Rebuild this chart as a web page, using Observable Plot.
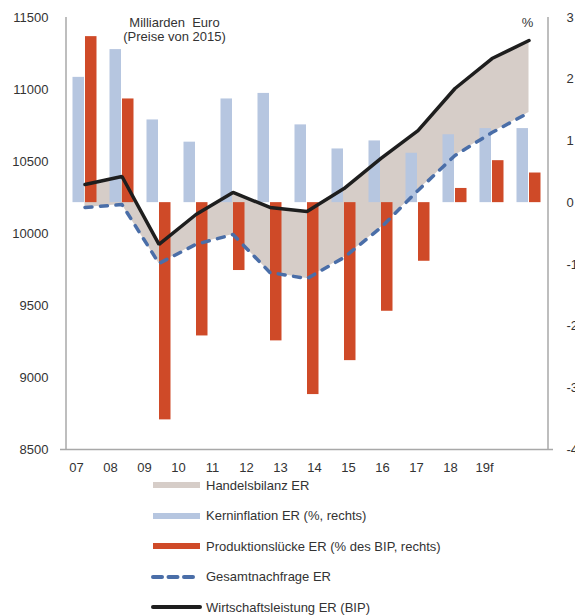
<!DOCTYPE html>
<html>
<head>
<meta charset="utf-8">
<script src="https://cdn.jsdelivr.net/npm/d3@7"></script>
<script src="https://cdn.jsdelivr.net/npm/@observablehq/plot@0.6"></script>
<style>
  body { margin: 0; background: #fff; font-family: "Liberation Sans", Arial, sans-serif; }
  #wrap { position: relative; width: 575px; height: 615px; overflow: hidden; }
  #wrap svg { display: block; }
  .legend { position: absolute; left: 0; top: 470px; width: 575px; }
  .row { display: flex; align-items: center; height: 30.5px; font-size: 13px; color: #333; }
  .row svg { margin-left: 151px; margin-right: 4px; }
</style>
</head>
<body>
<div id="wrap"></div>
<script>
// ---- data ----
const years = ["07","08","09","10","11","12","13","14","15","16","17","18","19f"];
const kerninflation = [2.03, 2.48, 1.34, 0.98, 1.68, 1.77, 1.26, 0.87, 1.0, 0.8, 1.1, 1.2, 1.2];
const produktionsluecke = [2.69, 1.68, -3.52, -2.16, -1.1, -2.24, -3.11, -2.56, -1.76, -0.95, 0.23, 0.68, 0.48];
const wirtschaftsleistung = [10340, 10396, 9924, 10132, 10285, 10181, 10153, 10312, 10521, 10715, 11007, 11215, 11340];
const gesamtnachfrage = [10181, 10201, 9792, 9925, 9993, 9729, 9687, 9833, 10042, 10299, 10542, 10701, 10840];
const leftTicks = [8500, 9000, 9500, 10000, 10500, 11000, 11500];
const rightTicks = [-4, -3, -2, -1, 0, 1, 2, 3];
const legendLabels = [
  "Handelsbilanz ER",
  "Kerninflation ER (%, rechts)",
  "Produktionslücke ER (% des BIP, rechts)",
  "Gesamtnachfrage ER",
  "Wirtschaftsleistung ER (BIP)"
];

// ---- colours ----
const cArea = "#d6cdc8", cKern = "#b6c6e0", cProd = "#cf4a28", cDash = "#4a6ea8", cBlack = "#1e1e1e", cAxis = "#a8a8a8", cText = "#333";

// right axis (-4..3) mapped onto left scale (8500..11500)
const conv = r => 8500 + (r + 4) * 3000 / 7;
const unconv = v => (v - 8500) * 7 / 3000 - 4;

const rows = years.map((year, i) => ({
  year, kern: kerninflation[i], prod: produktionsluecke[i],
  bip: wirtschaftsleistung[i], nf: gesamtnachfrage[i]
}));

const main = Plot.plot({
  width: 575, height: 458,
  marginLeft: 60, marginRight: 22, marginTop: 17, marginBottom: 9,
  style: { fontFamily: '"Liberation Sans", Arial, sans-serif', fontSize: "13px", color: cText, background: "#fff" },
  x: { type: "band", domain: years, paddingInner: 0, paddingOuter: 0, axis: null },
  y: { domain: [8500, 11500], axis: null },
  marks: [
    Plot.areaY(rows, { x: "year", y1: "nf", y2: "bip", fill: cArea, curve: "linear" }),
    Plot.barY(rows, { x: "year", y1: () => conv(0), y2: d => conv(d.kern), fill: cKern, insetLeft: 6.5, insetRight: 19 }),
    Plot.barY(rows, { x: "year", y1: () => conv(0), y2: d => conv(d.prod), fill: cProd, insetLeft: 19, insetRight: 6.5 }),
    Plot.line(rows, { x: "year", y: "nf", stroke: cDash, strokeWidth: 3.5, strokeDasharray: "7,8.5", strokeLinecap: "round" }),
    Plot.line(rows, { x: "year", y: "bip", stroke: cBlack, strokeWidth: 3.5, strokeLinejoin: "miter" }),
    Plot.ruleY([8500], { stroke: cAxis, strokeWidth: 1.5 }),
    Plot.ruleX([years[0]], { stroke: cAxis, strokeWidth: 1.5, dx: -19 }),
    Plot.ruleX([years[years.length - 1]], { stroke: cAxis, strokeWidth: 1.5, dx: 19 }),
    Plot.axisY(leftTicks, { anchor: "left", tickSize: 0, tickPadding: 12, tickFormat: d => String(d), fontSize: 13, fill: cText }),
    Plot.axisY(rightTicks.map(conv), { anchor: "right", tickSize: 0, tickPadding: 13, tickFormat: d => String(Math.round(unconv(d))), fontSize: 13, fill: cText, textAnchor: "start" }),
    Plot.text(["Milliarden  Euro\n(Preise von 2015)"], { frameAnchor: "top-left", dx: 114, dy: 12, textAnchor: "middle", lineAnchor: "middle", lineHeight: 1.1, fontSize: 13, fill: cText }),
    Plot.text(["%"], { frameAnchor: "top-left", dx: 467, dy: 5, textAnchor: "middle", lineAnchor: "middle", fontSize: 13, fill: cText })
  ]
});

const xAxis = Plot.plot({
  width: 575, height: 18,
  marginLeft: 55, marginRight: 70.5, marginTop: 0, marginBottom: 0,
  style: { fontFamily: '"Liberation Sans", Arial, sans-serif', fontSize: "13px", color: cText, background: "#fff" },
  x: { type: "band", domain: years, paddingInner: 0, paddingOuter: 0, axis: null },
  marks: [
    Plot.text(years, { x: d => d, fontSize: 13, fill: cText })
  ]
});

const wrap = document.getElementById("wrap");
wrap.appendChild(main);
wrap.appendChild(xAxis);

// legend
const swatches = [
  `<rect x="2" y="2" width="47" height="6" fill="${cArea}"/>`,
  `<rect x="2" y="2" width="47" height="6" fill="${cKern}"/>`,
  `<rect x="2" y="2" width="47" height="6" fill="${cProd}"/>`,
  `<line x1="2" y1="5" x2="47" y2="5" stroke="${cDash}" stroke-width="4" stroke-linecap="round" stroke-dasharray="9,6.5"/>`,
  `<line x1="2" y1="5" x2="49" y2="5" stroke="${cBlack}" stroke-width="4" stroke-linecap="round"/>`
];
const legend = document.createElement("div");
legend.className = "legend";
legend.innerHTML = legendLabels.map((t, i) =>
  `<div class="row"><svg width="51" height="10">${swatches[i]}</svg><span>${t}</span></div>`).join("");
wrap.appendChild(legend);
</script>
</body>
</html>
